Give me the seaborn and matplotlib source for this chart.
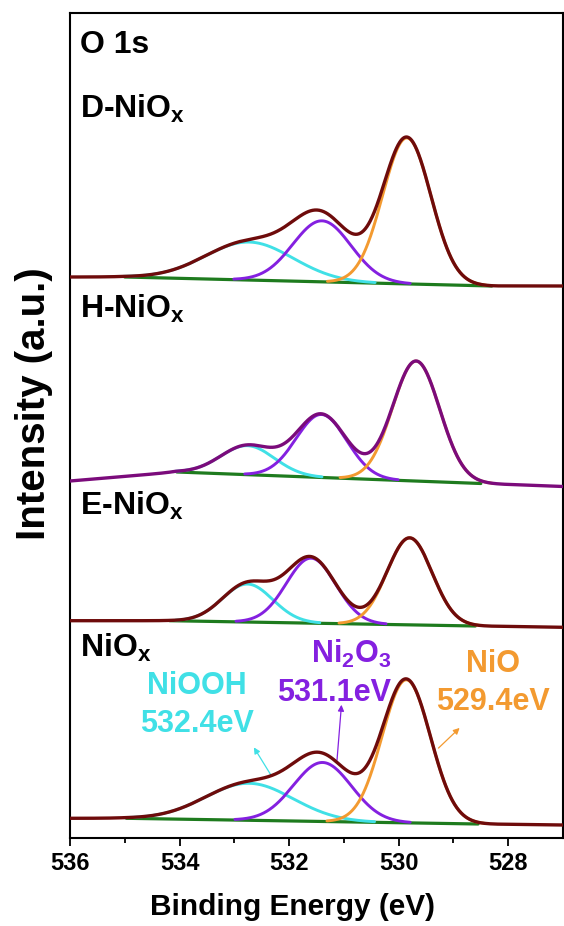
import numpy as np
import pandas as pd
import matplotlib
matplotlib.use("Agg")
import matplotlib.pyplot as plt
import seaborn as sns

# ---- data ----
# spectra, top to bottom
samples = ["D-NiO$_x$", "H-NiO$_x$", "E-NiO$_x$", "NiO$_x$"]
envelope_colors = ["#6E0B0B", "#7B0B7B", "#6E0B0B", "#6E0B0B"]

# Shirley-like background nodes (binding energy, intensity) of each spectrum
bg_energy = [[536, 535.00, 528.30, 527],
             [536, 534.05, 528.50, 527],
             [536, 534.18, 528.60, 527],
             [536, 534.97, 528.55, 527]]
bg_level = [[561.0, 561.0, 552.0, 552.0],
            [357.0, 366.0, 354.5, 351.5],
            [217.3, 217.3, 212.0, 210.7],
            [19.7, 19.7, 14.0, 13.0]]

# fitted peaks: NiO, Ni2O3, NiOOH
components = ["NiO", "Ni2O3", "NiOOH"]
comp_colors = ["#F39A30", "#8420E0", "#40E0E6"]
centers = [[529.85, 531.40, 532.73],
           [529.68, 531.41, 532.76],
           [529.80, 531.60, 532.76],
           [529.86, 531.39, 532.73]]
heights = [[146, 61, 38],
           [120, 63, 29],
           [87, 65, 38],
           [143, 59, 37]]
widths = [[0.44, 0.53, 0.80],
          [0.43, 0.46, 0.49],
          [0.41, 0.45, 0.46],
          [0.44, 0.53, 0.80]]

label_y = [720, 519.7, 323, 181.3]

# peak assignments written on the bottom spectrum
ann_text = ["NiOOH\n532.4eV", "Ni$_2$O$_3$\n531.1eV", "NiO\n529.4eV"]
ann_colors = ["#40E0E6", "#8420E0", "#F39A30"]
ann_x = [533.69, 530.13, 528.27]
ann_y = [133, 165, 155]
ann_ha = ["center", "right", "center"]
arrow_tail = [(532.31, 61), (531.13, 75), (529.31, 88)]
arrow_head = [(532.67, 93), (531.04, 136), (528.85, 112)]

# ---- plot ----
sns.set_style("ticks")
plt.rcParams['font.family'] = ['Liberation Sans', 'DejaVu Sans']
plt.rcParams['font.weight'] = 'bold'
plt.rcParams['text.color'] = 'black'
plt.rcParams['axes.labelcolor'] = 'black'
plt.rcParams['xtick.color'] = 'black'
plt.rcParams['mathtext.fontset'] = 'custom'
plt.rcParams['mathtext.rm'] = 'Liberation Sans:bold'
plt.rcParams['mathtext.it'] = 'Liberation Sans:bold'
plt.rcParams['mathtext.bf'] = 'Liberation Sans:bold'

fig = plt.figure(figsize=(5.64, 9.26), dpi=100)
ax = fig.add_axes([70 / 564, 88 / 926, 493 / 564, 825 / 926])

energy = np.linspace(536, 527, 901)

for i, name in enumerate(samples):
    bg = np.interp(energy, bg_energy[i][::-1], bg_level[i][::-1])
    peaks = [heights[i][k] * np.exp(-0.5 * ((energy - centers[i][k]) / widths[i][k]) ** 2)
             for k in range(len(components))]
    env = bg + np.sum(peaks, axis=0)

    in_bg = (energy <= bg_energy[i][1]) & (energy >= bg_energy[i][2])
    sns.lineplot(x=energy[in_bg], y=bg[in_bg], color="#1E7B1E", lw=2.3, ax=ax, zorder=2)

    for k in [2, 1, 0]:
        show = peaks[k] > 0.6
        sns.lineplot(x=energy[show], y=(bg + peaks[k])[show], color=comp_colors[k],
                     lw=2.1, ax=ax, zorder=3)

    sns.lineplot(x=energy, y=env, color=envelope_colors[i], lw=2.4, ax=ax, zorder=4)

    ax.text(535.82, label_y[i], name, fontsize=23, fontweight='bold', va='baseline', ha='left')

ax.text(535.82, 784.7, "O 1s", fontsize=23, fontweight='bold', va='baseline', ha='left')

for t, c, x, y, ha, tail, head in zip(ann_text, ann_colors, ann_x, ann_y, ann_ha, arrow_tail, arrow_head):
    ax.text(x, y, t, color=c, fontsize=22, fontweight='bold', ha=ha, va='center',
            multialignment=ha, linespacing=1.32)
    ax.annotate("", xy=head, xytext=tail,
                arrowprops=dict(arrowstyle='-|>', color=c, lw=0.9, mutation_scale=9))

ax.set_xlim(536, 527)
ax.set_ylim(0, 825)
ax.set_xticks([536, 534, 532, 530, 528])
ax.set_xticks([535, 533, 531, 529], minor=True)
ax.set_yticks([])
ax.tick_params(axis='x', which='major', direction='out', length=6, width=1.3,
               labelsize=17, pad=4)
ax.tick_params(axis='x', which='minor', direction='out', length=3.5, width=1.3)
for lab in ax.get_xticklabels():
    lab.set_fontweight('bold')
for s in ax.spines.values():
    s.set_linewidth(1.5)
    s.set_color('black')

ax.set_xlabel("Binding Energy (eV)", fontsize=21.5, fontweight='bold')
ax.xaxis.set_label_coords(0.452, -0.0667)
ax.set_ylabel("Intensity (a.u.)", fontsize=29, fontweight='bold')
ax.yaxis.set_label_coords(-0.0345, 0.526)

fig.savefig("out.png", dpi=100)
